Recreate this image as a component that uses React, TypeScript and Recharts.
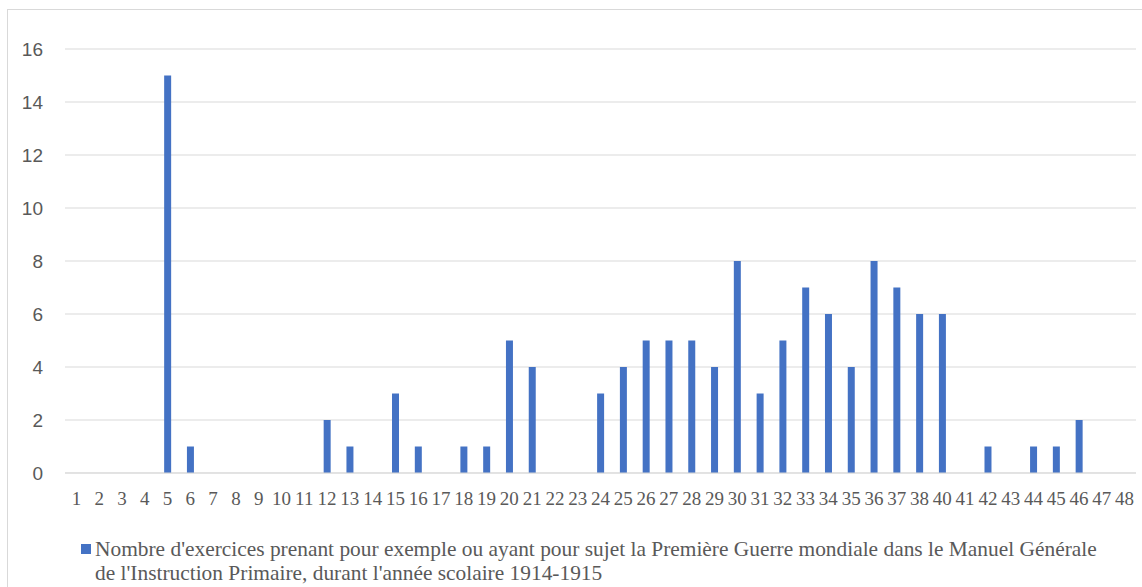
import { BarChart, Bar, XAxis, YAxis, CartesianGrid } from 'recharts'

// étiquettes de l'axe (le 39 n'apparaît pas dans l'original)
const labels = [
  '1', '2', '3', '4', '5', '6', '7', '8', '9', '10',
  '11', '12', '13', '14', '15', '16', '17', '18', '19', '20',
  '21', '22', '23', '24', '25', '26', '27', '28', '29', '30',
  '31', '32', '33', '34', '35', '36', '37', '38', '40', '41',
  '42', '43', '44', '45', '46', '47', '48',
]

const counts = [
  0, 0, 0, 0, 15, 1, 0, 0, 0, 0,
  0, 2, 1, 0, 3, 1, 0, 1, 1, 5,
  4, 0, 0, 3, 4, 5, 5, 5, 4, 8,
  3, 5, 7, 6, 4, 8, 7, 6, 6, 0,
  1, 0, 1, 1, 2, 0, 0,
]

const yTicks = [0, 2, 4, 6, 8, 10, 12, 14, 16]

const seriesName =
  "Nombre d'exercices prenant pour exemple ou ayant pour sujet la Première Guerre mondiale dans le Manuel Générale de l'Instruction Primaire, durant l'année scolaire 1914-1915"

const data = labels.map((l, i) => ({ label: l, value: counts[i] }))

const BLUE = '#4472C4'
const GREY = '#595959'
const SERIF = "'Liberation Serif', Tinos, 'Times New Roman', 'DejaVu Serif', serif"

function LegendBox() {
  return (
    <div
      style={{
        position: 'absolute', left: 81, top: 537, width: 1010,
        paddingLeft: 14,
        fontFamily: SERIF,
        fontSize: 21.4,
        lineHeight: '24px',
        color: GREY,
      }}
    >
      <span
        style={{
          position: 'absolute', left: 0, top: 7,
          width: 10, height: 10, background: BLUE,
        }}
      />
      {seriesName}
    </div>
  )
}

export default function App() {
  return (
    <div style={{ position: 'absolute', left: 0, top: 0, width: 1142, height: 587, overflow: 'hidden', background: '#fff' }}>
      <div
        style={{
          position: 'absolute', left: 7, top: 9, width: 1140, height: 600,
          border: '1px solid #D9D9D9', boxSizing: 'border-box',
        }}
      />
      <BarChart
        width={1142}
        height={587}
        data={data}
        margin={{ top: 49, right: 6, bottom: 84, left: 5 }}
        barCategoryGap={0}
        style={{ position: 'absolute', left: 0, top: 0 }}
      >
        <CartesianGrid vertical={false} stroke="#D9D9D9" strokeWidth={1} />
        <XAxis
          dataKey="label"
          height={30}
          interval={0}
          tickLine={false}
          axisLine={{ stroke: '#D9D9D9' }}
          tickSize={0}
          tickMargin={19}
          tick={{ fill: GREY, fontSize: 19, fontFamily: SERIF }}
        />
        <YAxis
          width={60}
          domain={[0, 16]}
          ticks={yTicks}
          axisLine={false}
          tickLine={false}
          tickSize={0}
          tickMargin={22}
          tick={{ fill: GREY, fontSize: 19, fontFamily: "'Liberation Sans', Arial, sans-serif" }}
        />
        <Bar dataKey="value" name={seriesName} fill={BLUE} barSize={7} isAnimationActive={false} />
      </BarChart>
      <LegendBox />
    </div>
  )
}
